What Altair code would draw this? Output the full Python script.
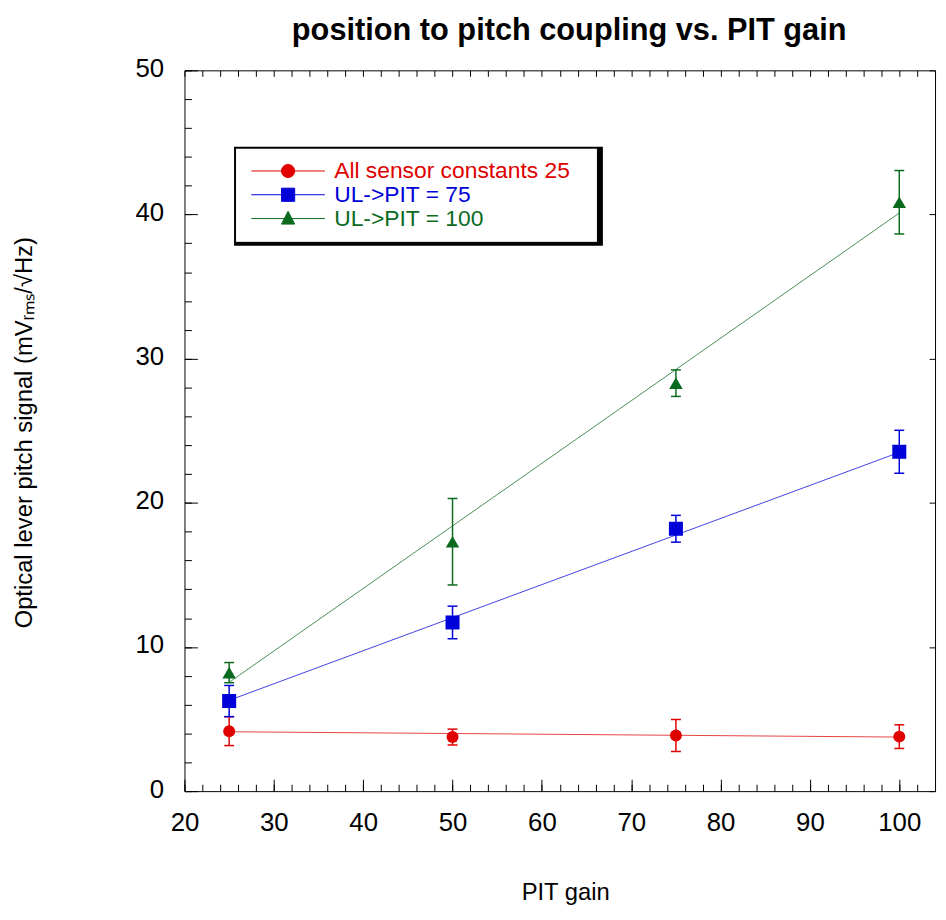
import altair as alt
import pandas as pd

# ---------------- data ----------------
series = ["All sensor constants 25", "UL->PIT = 75", "UL->PIT = 100"]
colors = ["#e00000", "#0000d8", "#0a6a1e"]
marker_shapes = ["circle", "square", "triangle-up"]
marker_sizes = [145, 200, 185]
gain = [25, 50, 75, 100]

sensor25_mean = [4.16, 3.75, 3.86, 3.78]
sensor25_err = [1.0, 0.55, 1.11, 0.82]
ulpit75_mean = [6.25, 11.7, 18.2, 23.54]
ulpit75_err = [1.08, 1.13, 0.93, 1.49]
ulpit100_mean = [8.22, 17.3, 28.3, 40.85]
ulpit100_err = [0.7, 3.0, 0.92, 2.2]

# straight-line fits drawn through each series (values at gain 25 and 100)
fit_gain = [25, 100]
sensor25_fit = [4.12, 3.75]
ulpit75_fit = [6.3, 23.5]
ulpit100_fit = [7.55, 40.1]

chart_title = "position to pitch coupling vs. PIT gain"
x_title = "PIT gain"
y_title = "Optical lever pitch signal (mVᵣₘₛ/√Hz)"

x_labels = [20, 30, 40, 50, 60, 70, 80, 90, 100]
y_labels = [0, 10, 20, 30, 40, 50]
x_minor = list(range(20, 105, 2))
y_minor = list(range(0, 51, 2))

# ---------------- tables ----------------
rows = []
for name, means, errs in zip(series, [sensor25_mean, ulpit75_mean, ulpit100_mean],
                             [sensor25_err, ulpit75_err, ulpit100_err]):
    for g, m, e in zip(gain, means, errs):
        rows.append({"series": name, "gain": g, "mean": m, "lo": m - e, "hi": m + e})
pts = pd.DataFrame(rows)

frows = []
for name, fv in zip(series, [sensor25_fit, ulpit75_fit, ulpit100_fit]):
    for g, v in zip(fit_gain, fv):
        frows.append({"series": name, "gain": g, "fit": v})
fits = pd.DataFrame(frows)

# ---------------- layout ----------------
W, H = 757, 727
FONT = "Liberation Sans"
xs = alt.Scale(domain=[20, 104], nice=False, zero=False)
ys = alt.Scale(domain=[0, 50], nice=False, zero=False)

# legend symbols: a line with the marker on it (unit = sqrt(size)/2 px)
r = 0.95
k = round(0.5523 * r, 3)
line_p = "M-5.3,0L5.3,0"
circle_p = (f"M{r},0C{r},{k} {k},{r} 0,{r}C{-k},{r} {-r},{k} {-r},0"
            f"C{-r},{-k} {-k},{-r} 0,{-r}C{k},{-r} {r},{-k} {r},0Z")
square_p = "M-0.95,-0.95L0.95,-0.95L0.95,0.95L-0.95,0.95Z"
tri_p = "M0,-1.05L0.95,0.8L-0.95,0.8Z"
legend_paths = [line_p + circle_p, line_p + square_p, line_p + tri_p]
SYM = 196


def row_legend(i):
    return alt.Legend(
        orient="none", legendX=63, legendY=90 + 24 * i, title=None, direction="vertical",
        padding=0, rowPadding=0, labelFont=FONT, labelFontSize=23, labelLimit=500,
        labelColor=colors[i], labelOffset=35, symbolOffset=30, symbolSize=SYM,
        symbolStrokeWidth=1, symbolOpacity=1, symbolType=legend_paths[i],
        symbolFillColor=colors[i], symbolStrokeColor=colors[i],
    )


x_main = alt.Axis(orient="bottom", values=x_labels, ticks=False, tickSize=0, domain=False, grid=False,
                  labelFont=FONT, labelFontSize=26, labelColor="black", labelPadding=19,
                  labelFlush=False, labelOverlap=False,
                  title=x_title, titleFont=FONT, titleFontSize=24, titleFontWeight="normal",
                  titleColor="black", titleX=384, titleY=109, titleBaseline="alphabetic",
                  titleAlign="center")
y_main = alt.Axis(orient="left", values=y_labels, ticks=False, tickSize=0, domain=False, grid=False,
                  labelFont=FONT, labelFontSize=26, labelColor="black", labelPadding=21,
                  labelOffset=-2, labelFlush=False, labelOverlap=False,
                  title=y_title, titleFont=FONT, titleFontSize=24,
                  titleFontWeight="normal", titleColor="black", titleAngle=270,
                  titleX=-154, titleY=365, titleBaseline="alphabetic", titleAlign="center")


def tick_axis(orient, values, size):
    off = -H if orient in ("top", "bottom") else -W
    return alt.Axis(orient=orient, offset=off, values=values, ticks=True, tickSize=size,
                    tickColor="black", tickWidth=1, labels=False, domain=False, grid=False,
                    title=None)


def ghost(xaxis, yaxis):
    return alt.Chart(pts).mark_point(opacity=0).encode(
        x=alt.X("gain:Q", scale=xs, axis=xaxis),
        y=alt.Y("mean:Q", scale=ys, axis=yaxis),
    )


one = alt.Data(values=[{"k": 0}])

# chart title
title = alt.Chart(one).mark_text(
    text=chart_title, font=FONT, fontSize=31, fontWeight="bold", color="black",
    align="center", baseline="alphabetic",
).encode(x=alt.value(388), y=alt.value(-31))

# legend box: black drop shadow, then white box with black border
shadow = alt.Chart(one).mark_rect(color="black").encode(
    x=alt.value(50), x2=alt.value(422), y=alt.value(77), y2=alt.value(177)
)
box = alt.Chart(one).mark_rect(fill="white", stroke="black", strokeWidth=1).encode(
    x=alt.value(51.5), x2=alt.value(416.5), y=alt.value(78.5), y2=alt.value(173.5)
)

# ---------------- series layers (one colour per series) ----------------
line_layers, bar_layers, marker_layers = [], [], []
for i, (name, col, shp, sz) in enumerate(zip(series, colors, marker_shapes, marker_sizes)):
    sel = alt.datum.series == name
    line_layers.append(
        alt.Chart(fits).transform_filter(sel)
        .mark_line(color=col, strokeWidth=1, opacity=0.75)
        .encode(x=alt.X("gain:Q", scale=xs, axis=None), y=alt.Y("fit:Q", scale=ys, axis=None))
    )
    bar_layers.append(
        alt.Chart(pts).transform_filter(sel).mark_rule(color=col, strokeWidth=1.5)
        .encode(x=alt.X("gain:Q", scale=xs, axis=None), y=alt.Y("lo:Q", scale=ys, axis=None),
                y2="hi:Q")
    )
    for fld in ["lo", "hi"]:
        bar_layers.append(
            alt.Chart(pts).transform_filter(sel)
            .mark_tick(color=col, orient="horizontal", size=10, thickness=1.5, opacity=1)
            .encode(x=alt.X("gain:Q", scale=xs, axis=None),
                    y=alt.Y(f"{fld}:Q", scale=ys, axis=None))
        )
    marker_layers.append(
        alt.Chart(pts).transform_filter(sel)
        .mark_point(filled=True, opacity=1, shape=shp, size=sz, color=col)
        .encode(x=alt.X("gain:Q", scale=xs, axis=x_main if i == 0 else None),
                y=alt.Y("mean:Q", scale=ys, axis=y_main if i == 0 else None))
    )

# one invisible layer per legend row (each row is its own one-entry legend)
legend_layers = []
row_channels = [("fill", alt.Fill), ("stroke", alt.Stroke), ("color", alt.Color)]
for i, (name, (cname, chan)) in enumerate(zip(series, row_channels)):
    legend_layers.append(
        alt.Chart(pts).transform_filter(alt.datum.series == name)
        .mark_point(filled=True, opacity=0, fill=colors[i], stroke=colors[i], strokeWidth=1,
                    shape=legend_paths[i])
        .encode(
            x=alt.X("gain:Q", scale=xs, axis=None),
            y=alt.Y("mean:Q", scale=ys, axis=None),
            **{cname: chan("series:N", scale=alt.Scale(domain=[name], range=[colors[i]]),
                           legend=row_legend(i))},
        )
    )

ticks_a = ghost(tick_axis("top", x_labels, 12), tick_axis("right", y_labels, 13))
ticks_b = ghost(tick_axis("top", x_minor, 7), tick_axis("right", y_minor, 7))
ticks_c = ghost(tick_axis("bottom", x_minor, 6), tick_axis("left", y_labels, 6))

chart = alt.layer(
    shadow, box, *line_layers, *bar_layers, *marker_layers, *legend_layers,
    ticks_a, ticks_b, ticks_c, title
).resolve_axis(
    x="independent", y="independent"
).properties(
    width=W, height=H,
    autosize=alt.AutoSizeParams(type="none"),
    padding={"left": 178, "top": 59, "right": 3, "bottom": 114},
    background="white",
).configure_view(stroke="black", strokeWidth=1)

chart.save("out.html", embed_options={"renderer": "svg", "actions": False})
